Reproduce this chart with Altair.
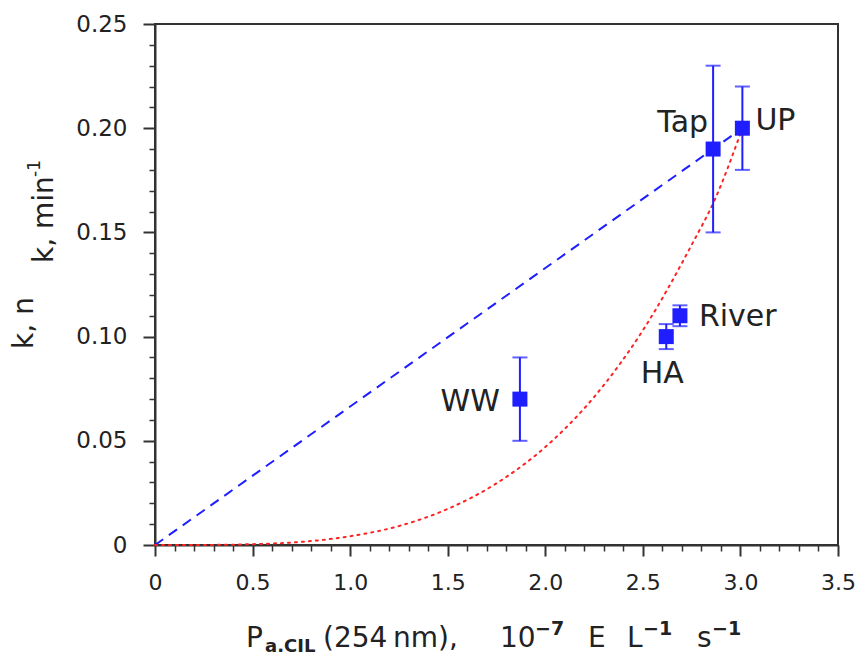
import altair as alt
import pandas as pd

# ---- data ----
names = ["WW", "HA", "River", "Tap", "UP"]
pa = [1.87, 2.62, 2.69, 2.86, 3.01]
k = [0.070, 0.100, 0.110, 0.190, 0.200]
k_lo = [0.050, 0.094, 0.105, 0.150, 0.180]
k_hi = [0.090, 0.106, 0.115, 0.230, 0.220]

lin_x = [0.0, 3.01]
lin_y = [0.0, 0.200]

curve_x = [0.0, 0.25, 0.5, 0.75, 1.0, 1.25, 1.5, 1.75, 2.0, 2.25, 2.5, 2.75, 2.87, 3.01]
curve_y = [0.0, 0.00003, 0.0004, 0.0015, 0.0042, 0.0091, 0.0173, 0.0296, 0.047, 0.071,
           0.103, 0.144, 0.166, 0.200]

x_major = [0, 0.5, 1.0, 1.5, 2.0, 2.5, 3.0, 3.5]
y_major = [0, 0.05, 0.10, 0.15, 0.20, 0.25]
x_minor = [0.1, 0.2, 0.3, 0.4, 0.6, 0.7, 0.8, 0.9, 1.1, 1.2, 1.3, 1.4, 1.6, 1.7, 1.8, 1.9,
           2.1, 2.2, 2.3, 2.4, 2.6, 2.7, 2.8, 2.9, 3.1, 3.2, 3.3, 3.4]
y_minor = [0.01, 0.02, 0.03, 0.04, 0.06, 0.07, 0.08, 0.09, 0.11, 0.12, 0.13, 0.14,
           0.16, 0.17, 0.18, 0.19, 0.21, 0.22, 0.23, 0.24]

pts = pd.DataFrame({"name": names, "x": pa, "y": k, "lo": k_lo, "hi": k_hi})
lin = pd.DataFrame({"x": lin_x, "y": lin_y})
cur = pd.DataFrame({"x": curve_x, "y": curve_y})

FONT = "DejaVu Sans"
BLUE = "#1e1eff"
RED = "#ff2222"
TXT = "#222222"

xs = alt.Scale(domain=[0, 3.5], nice=False, zero=False)
ys = alt.Scale(domain=[0, 0.25], nice=False, zero=False)

major_x_axis = alt.Axis(values=x_major, orient="bottom", grid=False, title=None,
                        labelExpr="datum.value == 0 ? '0' : format(datum.value, '.1f')",
                        tickSize=11, tickWidth=2, tickColor="#333", domainColor="#333",
                        domainWidth=2, labelFontSize=22, labelFont=FONT, labelColor=TXT,
                        labelPadding=16, labelFlush=False, labelOverlap=False)
major_y_axis = alt.Axis(values=y_major, orient="left", grid=False, title=None,
                        labelExpr="datum.value == 0 ? '0' : format(datum.value, '.2f')",
                        tickSize=12, tickWidth=2, tickColor="#333", domainColor="#333",
                        domainWidth=2, labelFontSize=23, labelFont=FONT, labelColor=TXT,
                        labelPadding=16, labelFlush=False, labelOverlap=False)
minor_x_axis = alt.Axis(values=x_minor, orient="bottom", grid=False, title=None,
                        labels=False, tickSize=6, tickWidth=1.5, tickColor="#333", domain=False)
minor_y_axis = alt.Axis(values=y_minor, orient="left", grid=False, title=None,
                        labels=False, tickSize=6, tickWidth=1.5, tickColor="#333", domain=False)

dash = alt.Chart(lin).mark_line(color=BLUE, strokeWidth=2, strokeDash=[10, 7]).encode(
    x=alt.X("x:Q", scale=xs, axis=minor_x_axis),
    y=alt.Y("y:Q", scale=ys, axis=minor_y_axis),
)
dots = alt.Chart(cur).mark_line(color=RED, strokeWidth=2, strokeDash=[2, 5],
                                strokeCap="round", interpolate="monotone").encode(
    x=alt.X("x:Q", scale=xs, axis=major_x_axis),
    y=alt.Y("y:Q", scale=ys, axis=major_y_axis),
)

base = alt.Chart(pts)
X = alt.X("x:Q", scale=xs, axis=None)
bars = base.mark_rule(color=BLUE, strokeWidth=2).encode(
    x=X, y=alt.Y("lo:Q", scale=ys, axis=None), y2="hi:Q")
cap_lo = base.mark_tick(color=BLUE, thickness=2, size=15, orient="horizontal").encode(
    x=X, y=alt.Y("lo:Q", scale=ys, axis=None))
cap_hi = base.mark_tick(color=BLUE, thickness=2, size=15, orient="horizontal").encode(
    x=X, y=alt.Y("hi:Q", scale=ys, axis=None))
squares = base.mark_point(shape="square", filled=True, size=225, color=BLUE, opacity=1).encode(
    x=X, y=alt.Y("y:Q", scale=ys, axis=None))


def lab(name, align, dx, dy):
    return base.transform_filter(alt.datum.name == name).mark_text(
        align=align, baseline="alphabetic", dx=dx, dy=dy, fontSize=30, font=FONT,
        color=TXT).encode(x=X, y=alt.Y("y:Q", scale=ys, axis=None), text="name:N")


labels = [
    lab("Tap", "right", -5, -17),
    lab("UP", "left", 13, 2),
    lab("River", "left", 19, 10),
    lab("HA", "center", -4, 46),
    lab("WW", "right", -20, 12),
]

one = pd.DataFrame({"a": [0]})


def free_text(text, x, y, size, angle=0, bold=False, align="left"):
    return alt.Chart(one).mark_text(text=text, fontSize=size, font=FONT, color=TXT,
                                    angle=angle, align=align, baseline="alphabetic",
                                    fontWeight="bold" if bold else "normal").encode(
        x=alt.value(x), y=alt.value(y))


titles = [
    free_text("P", 91, 623, 28),
    free_text("a.CIL", 110, 628, 18, bold=True),
    free_text("(254", 168, 623, 28),
    free_text("nm),", 238, 623, 28),
    free_text("10", 345, 623, 28),
    free_text("\u22127", 380, 611, 19, bold=True),
    free_text("E", 433, 623, 28),
    free_text("L", 472, 623, 28),
    free_text("\u22121", 488, 611, 19, bold=True),
    free_text("s", 542, 623, 28),
    free_text("\u22121", 557, 611, 19, bold=True),
    free_text("k,  n", -122, 299, 28, angle=270, align="center"),
    free_text("k, min", -102, 239, 28, angle=270, align="left"),
    free_text("-1", -115, 153, 17, angle=270, align="left"),
]

chart = alt.layer(dash, dots, bars, cap_lo, cap_hi, squares, *labels, *titles).resolve_axis(
    x="independent", y="independent"
).properties(
    width=683, height=521,
    padding={"left": 155, "top": 24, "right": 18, "bottom": 112},
    autosize=alt.AutoSizeParams(type="none"),
    background="white",
).configure_view(stroke="#333", strokeWidth=2)

chart.save("out.html", embed_options={"renderer": "svg", "actions": False})
